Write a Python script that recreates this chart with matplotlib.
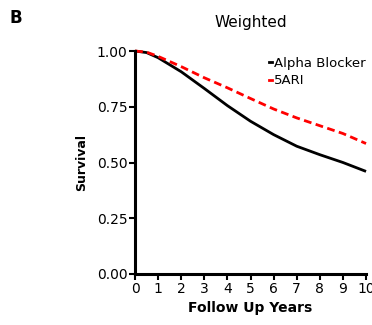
import matplotlib
matplotlib.use("Agg")
import matplotlib.pyplot as plt
from matplotlib.lines import Line2D

years = [0, 0.5, 1, 2, 3, 4, 5, 6, 7, 8, 9, 10]
alpha_blocker = [1.0, 0.993, 0.970, 0.907, 0.832, 0.755, 0.685, 0.625, 0.573, 0.535, 0.50, 0.46]
ari5 = [1.0, 0.995, 0.976, 0.93, 0.88, 0.835, 0.787, 0.74, 0.70, 0.665, 0.63, 0.585]
xticks = list(range(0, 11))
yticks = [0.0, 0.25, 0.5, 0.75, 1.0]
series_names = ["Alpha Blocker", "5ARI"]

fig = plt.figure(figsize=(3.72, 3.25), dpi=100)
ax = fig.add_axes([0.363, 0.157, 0.621, 0.686])
ax.plot(years, alpha_blocker, color="black", lw=2.0, solid_capstyle="butt")
ax.plot(years, ari5, color="#ff0000", lw=2.0, ls=(0, (2.8, 1.6)))
ax.set_xlim(0, 10)
ax.set_ylim(0, 1.0)
ax.set_xticks(xticks)
ax.set_xticklabels([str(t) for t in xticks])
ax.set_yticks(yticks)
ax.set_yticklabels([f"{t:.2f}" for t in yticks])
for s in ["top", "right"]:
    ax.spines[s].set_visible(False)
for s in ["left", "bottom"]:
    ax.spines[s].set_linewidth(2.2)
ax.tick_params(axis="both", direction="out", length=4, width=1.5, labelsize=10, pad=1.5)
for line in ax.get_lines():
    line.set_clip_on(False)
ax.set_xlabel("Follow Up Years", fontsize=10, fontweight="semibold", labelpad=4)
ax.set_ylabel("Survival", fontsize=9, fontweight="semibold", labelpad=6)
ax.set_title("Weighted", fontsize=11, pad=17)

handles = [Line2D([0], [0], color="black", lw=2), Line2D([0], [0], color="#ff0000", lw=2)]
leg = ax.legend(handles, series_names, loc="upper left", bbox_to_anchor=(0.58, 0.975),
                frameon=False, handlelength=0.25, handletextpad=0.15, fontsize=9.5,
                labelspacing=0.35, borderaxespad=0, borderpad=0)

fig.text(0.025, 0.93, "B", fontsize=12, fontweight="bold")
fig.savefig("out.png", dpi=100)
